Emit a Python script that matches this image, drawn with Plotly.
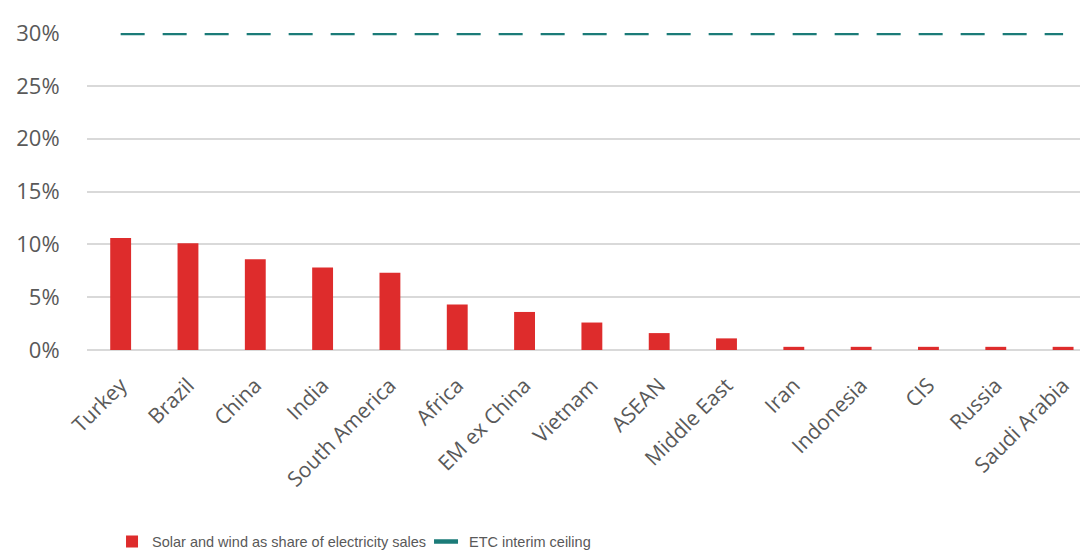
import plotly.graph_objects as go

categories = ["Turkey", "Brazil", "China", "India", "South America", "Africa",
              "EM ex China", "Vietnam", "ASEAN", "Middle East", "Iran",
              "Indonesia", "CIS", "Russia", "Saudi Arabia"]
solar_wind_share = [10.6, 10.1, 8.6, 7.8, 7.3, 4.3, 3.6, 2.6, 1.6, 1.1,
                    0.3, 0.3, 0.3, 0.3, 0.3]
etc_ceiling = [30] * len(categories)
y_ticks = [0, 5, 10, 15, 20, 25, 30]
y_tick_labels = [f"{v}%" for v in y_ticks]

FONT = "Open Sans"
GREY = "#595959"

fig = go.Figure()
fig.add_trace(go.Bar(
    x=categories, y=solar_wind_share,
    name="Solar and wind as share of electricity sales",
    marker=dict(color="#DE2C2C", line=dict(width=0)),
    width=0.31,
))
fig.add_trace(go.Scatter(
    x=categories, y=etc_ceiling, mode="lines",
    name="ETC interim ceiling",
    line=dict(color="#1B7B78", width=4.5, dash="24px,18px"),
))

fig.update_layout(
    width=1080, height=546,
    margin=dict(l=79, r=0, t=25, b=204, autoexpand=False),
    plot_bgcolor="white", paper_bgcolor="white",
    font=dict(family=FONT, color=GREY),
    showlegend=True,
    legend=dict(orientation="h", x=0.025, y=-0.655, xanchor="left", yanchor="bottom",
                font=dict(size=14.5, color=GREY, family="Liberation Sans, Arial, sans-serif"),
                entrywidth=272),
    xaxis=dict(
        type="category", range=[-0.5, 14.37], automargin=False,
        tickangle=-45, tickfont=dict(size=21, color=GREY),
        ticklabelstandoff=18,
        showgrid=False, showline=False, ticks="",
    ),
    yaxis=dict(
        range=[0, 30], tickvals=y_ticks, ticktext=y_tick_labels, automargin=False,
        tickfont=dict(size=22, color=GREY),
        showgrid=True, gridcolor="#D9D9D9", gridwidth=1.5,
        zeroline=True, zerolinecolor="#D9D9D9", zerolinewidth=1.5,
        ticks="outside", ticklen=22, tickcolor="rgba(0,0,0,0)",
        showline=False,
    ),
)

fig.write_html("out.html")
